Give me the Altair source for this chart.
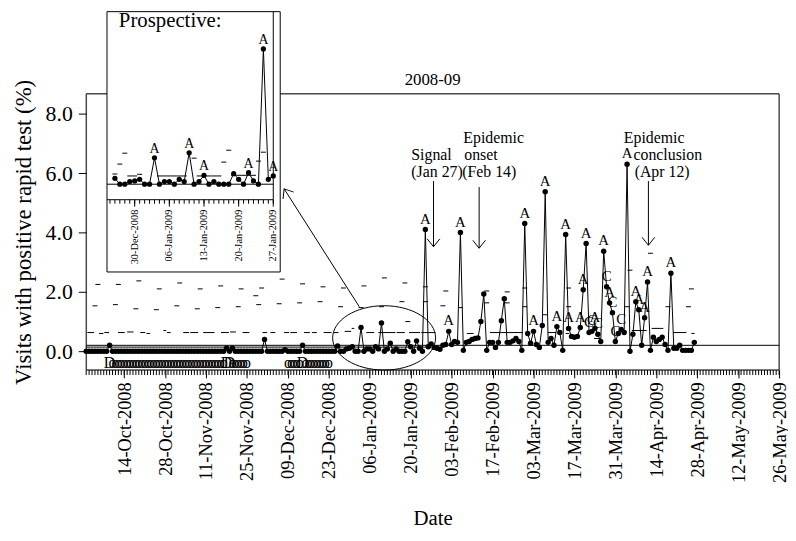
import altair as alt
import pandas as pd

SERIF = "Liberation Serif"
START = pd.Timestamp("2008-10-01")


def ts(d):
    return (START + pd.Timedelta(days=d)).strftime("%Y-%m-%dT%H:%M:%S")


def dt(y, m, d, h=0, mi=0):
    return alt.DateTime(year=y, month=m, date=d, hours=h, minutes=mi)


# ---------------- data (day 0 = 01-Oct-2008) ----------------
SERIES = [
    0, 0, 0, 0, 0, 0, 0, 0, 0.2, 0,
    0, 0, 0, 0, 0, 0, 0, 0, 0, 0,
    0, 0, 0, 0, 0, 0, 0, 0, 0, 0,
    0, 0, 0, 0, 0, 0, 0, 0, 0, 0,
    0, 0, 0, 0, 0, 0, 0, 0, 0.1, 0,
    0.1, 0, 0, 0, 0, 0, 0, 0, 0, 0,
    0, 0.4, 0, 0, 0, 0, 0, 0, 0.05, 0,
    0, 0, 0, 0, 0.2, 0, 0, 0, 0, 0,
    0, 0, 0, 0, 0, 0,
    0.18, 0, 0, 0.08, 0.1, 0.15, 0, 0, 0.8, 0,
    0.08, 0.08, 0, 0.15, 0.08, 0.95, 0, 0.08, 0.27, 0,
    0.08, 0, 0, 0, 0.32, 0.15, 0, 0.35, 0.1, 0,
    4.1, 0.15, 0.25, 0.13, 0.1, 0.07, 0.2, 0.23, 0.67, 0.23,
    0.33, 0.3, 4.0, 0.03, 0.3, 0.33, 0.4, 0.43, 0.45, 1.0,
    1.93, 0.03, 0.3, 0.3, 0.13, 0.3, 1.03, 1.77, 0.3, 0.3,
    0.35, 0.43, 0.33, 0.03, 4.3, 0.6, 0.27, 0.67, 0.23, 0.13,
    0.87, 5.37, 0.3, 0.43, 0.2, 0.83, 0.63, 0.03, 3.93, 0.77,
    0.5, 0.47, 0.5, 0.8, 2.07, 3.63, 0.63, 0.67, 0.77, 0.57,
    0.33, 3.37, 2.17, 1.63, 1.3, 0.33, 0.6, 0.73, 0.63, 6.3,
    0, 0.57, 1.67, 1.4, 0.2, 1.13, 2.33, 0.03, 0.47, 0.33,
    0.4, 0.47, 0.23, 0.03, 2.63, 0.1, 0.1, 0.2, 0.03, 0.03,
    0.03, 0.03, 0.3,
]
A_DAYS = [116, 124, 128, 150, 153, 157, 161, 164, 165, 169, 170, 171, 174,
          177, 179, 185, 188, 189, 191, 192, 200]
C_DAYS = [172, 173, 175, 178, 180, 181, 183]

# weekly threshold marks (day, value)
HI_MARKS = [(4, 2.25), (11, 2.25), (18, 2.37), (25, 2.1), (32, 2.3), (39, 2.1),
            (46, 2.2), (53, 2.1), (58, 1.87), (60, 2.13), (67, 2.43), (74, 2.27),
            (81, 2.17), (88, 2.13), (95, 2.2), (102, 2.47), (109, 2.3), (110, 1.0),
            (116, 2.17), (123, 2.03), (137, 2.03), (144, 2.0), (150, 2.13),
            (165, 2.13), (186, 2.73), (193, 3.3), (207, 2.1)]
LO_MARKS = [(3, 1.53), (10, 1.57), (17, 1.43), (24, 1.4), (31, 1.53), (38, 1.43),
            (45, 1.47), (52, 1.5), (59, 1.57), (66, 1.6), (73, 1.63), (80, 1.67),
            (87, 1.5), (94, 1.47), (101, 1.5), (108, 1.67), (116, 1.67), (122, 1.53),
            (128, 1.47), (137, 1.63), (144, 1.63), (150, 1.5), (157, 1.23),
            (165, 1.5), (185, 1.5), (199, 1.5), (206, 1.5)]
# lower threshold dashes (start day, end day, value)
LOW_SEGMENTS = [
    (0.4, 2.7, 0.63), (4.4, 5.9, 0.6), (6.2, 7.8, 0.63), (10.9, 13.2, 0.63),
    (14.0, 16.2, 0.65), (18.5, 20.2, 0.63), (20.6, 21.9, 0.6), (26.4, 27.4, 0.7),
    (27.6, 28.9, 0.63), (33.2, 35.2, 0.63), (35.6, 38.3, 0.63), (40.0, 43.9, 0.63),
    (46.1, 48.8, 0.63), (49.2, 51.2, 0.65), (53.5, 55.8, 0.63), (60.3, 61.9, 0.63),
    (63.0, 64.7, 0.63), (67.7, 69.4, 0.63), (69.8, 72.1, 0.63), (74.5, 76.5, 0.63),
    (77.2, 78.9, 0.63), (81.2, 83.9, 0.63), (84.6, 86.3, 0.63), (88.4, 90.6, 0.67),
    (90.8, 91.7, 0.77), (95.8, 98.5, 0.63), (99.9, 105.8, 0.63), (106.2, 109.0, 0.63),
    (110.4, 114.2, 0.63), (114.6, 119.5, 0.63), (130.2, 132.5, 0.6),
    (138.1, 149.4, 0.63), (157.9, 160.7, 0.63), (164.0, 165.2, 0.6),
    (173.7, 175.9, 0.43), (182.0, 184.9, 0.67), (186.6, 191.7, 0.7),
    (193.4, 197.4, 0.77), (200.7, 205.3, 0.63), (207.0, 208.1, 0.6),
]
BASE_LINES = [(0, 237, 0.2), (0, 118, 0.14)]

# letter rows under the baseline
O_DAYS = list(range(9, 48)) + list(range(50, 56)) + list(range(69, 74)) + list(range(75, 84))
D_DAYS = [8, 48, 49, 74]
LETTER_Y = -0.57

MAJOR_LABEL_DATES = [(2008, 10, 14), (2008, 10, 28), (2008, 11, 11), (2008, 11, 25),
                     (2008, 12, 9), (2008, 12, 23), (2009, 1, 6), (2009, 1, 20),
                     (2009, 2, 3), (2009, 2, 17), (2009, 3, 3), (2009, 3, 17),
                     (2009, 3, 31), (2009, 4, 14), (2009, 4, 28), (2009, 5, 12),
                     (2009, 5, 26)]

TITLE = ("2008-09", 118.5, 8.95)
ANNOT_TEXT = ["Signal", "(Jan 27)", "Epidemic", "onset", "(Feb 14)",
              "Epidemic", "conclusion", "(Apr 12)"]
ANNOT_DAY = [111.2, 111.2, 129.0, 129.3, 128.6, 183.9, 187.2, 187.6]
ANNOT_Y = [6.43, 5.87, 7.03, 6.43, 5.87, 7.03, 6.43, 5.87]
ARROWS = [(118.8, 5.73, 3.52), (134.4, 5.53, 3.47), (192.3, 5.73, 3.57)]

ELLIPSE = (101.9, 0.45)
LINK = (93.4, 1.5, 67.7, 5.47)  # tail day, tail value, tip day, tip value

# inset
INSET_FIRST, INSET_LAST = 86, 118
INSET_A_DAYS = [94, 101, 104, 113, 116, 118]
INSET_DASHES = [(86, 0.31), (87, 0.61), (88, 0.94), (89, 0.25), (90, 0.25), (91, 0.3),
                (95, 0.25), (96, 0.25), (97, 0.25), (98, 0.25), (99, 0.25), (100, 0.25),
                (102, 0.79), (103, 0.25), (104, 0.25), (105, 0.25), (106, 0.25), (107, 0.25),
                (108, 0.67), (109, 1.03), (110, 0.27), (111, 0.27), (112, 0.27), (113, 0.27),
                (114, 0.27), (115, 0.7), (116, 0.97)]
INSET_TICK_DAYS = [90, 97, 104, 111, 118]
INSET_TICK_LABELS = ["30-Dec-2008", "06-Jan-2009", "13-Jan-2009", "20-Jan-2009", "27-Jan-2009"]
INSET_X0, INSET_X1, INSET_BOX_X1 = 84.4, 118.0, 119.4
INSET_Y0, INSET_TOP, INSET_BOX_Y0 = -0.47, 5.23, -2.66

# ---------------- scales & axes ----------------
X_SCALE = alt.Scale(type="time", domain=[dt(2008, 10, 1), dt(2009, 5, 26)], nice=False)
Y_SCALE = alt.Scale(domain=[-0.63, 8.67], nice=False, zero=False)
X_AXIS = alt.Axis(values=[dt(*v) for v in MAJOR_LABEL_DATES], format="%d-%b-%Y",
                  labelAngle=270, labelFont=SERIF, labelFontSize=18.5, labelPadding=4,
                  labelOverlap=False, labelFlush=False, tickSize=8, grid=False,
                  domain=False, title="Date", titleFont=SERIF, titleFontSize=21,
                  titleFontWeight="normal", titleY=156, titleBaseline="alphabetic")
Y_AXIS = alt.Axis(values=[0, 2, 4, 6, 8], format=".1f", tickSize=8, labelPadding=6,
                  labelFont=SERIF, labelFontSize=22, grid=False, domain=False,
                  title="Visits with positive rapid test (%)", titleFont=SERIF,
                  titleFontSize=23, titleFontWeight="normal", titleX=-56,
                  titleBaseline="alphabetic")
IX_SCALE = alt.Scale(type="time", domain=[dt(2008, 12, 24, 9, 36), dt(2009, 1, 27)],
                     range=[21, 189], nice=False)
IY_SCALE = alt.Scale(domain=[-0.47, 5.41], range=[107, -89], nice=False, zero=False)


def mx(f="date"):
    return alt.X(f"{f}:T", scale=X_SCALE, axis=X_AXIS)


def my(f="value"):
    return alt.Y(f"{f}:Q", scale=Y_SCALE, axis=Y_AXIS)


def ix(f="date"):
    return alt.X(f"{f}:T", scale=IX_SCALE, axis=None)


def iy(f="value"):
    return alt.Y(f"{f}:Q", scale=IY_SCALE, axis=None)


DASH = "M-1,0L1,0"
CHEVRON = "M-0.8,1L0,0L0.8,1"
ELLIPSE_PATH = "M-1,0A1,0.625,0,1,1,1,0A1,0.625,0,1,1,-1,0Z"

# ---------------- frames ----------------
series_df = pd.DataFrame({"date": [ts(i) for i in range(len(SERIES))], "value": SERIES})
series_df["flag"] = ["A" if i in A_DAYS else ("C" if i in C_DAYS else "")
                     for i in range(len(SERIES))]
flags_df = series_df[series_df["flag"] != ""]

frame_df = pd.DataFrame({"date": [ts(0)], "end": [ts(237)], "y0": [-0.63], "y1": [8.67]})
base_df = pd.DataFrame({"date": [ts(a) for a, b, v in BASE_LINES],
                        "end": [ts(b) for a, b, v in BASE_LINES],
                        "value": [v for a, b, v in BASE_LINES]})
seg_df = pd.DataFrame({"date": [ts(a) for a, b, v in LOW_SEGMENTS],
                       "end": [ts(b) for a, b, v in LOW_SEGMENTS],
                       "value": [v for a, b, v in LOW_SEGMENTS]})
marks = HI_MARKS + LO_MARKS
marks_df = pd.DataFrame({"date": [ts(d) for d, v in marks], "value": [v for d, v in marks]})
letters_df = pd.DataFrame({"date": [ts(d) for d in O_DAYS + D_DAYS],
                           "value": [LETTER_Y] * (len(O_DAYS) + len(D_DAYS)),
                           "t": ["o"] * len(O_DAYS) + ["D"] * len(D_DAYS)})
minor_df = pd.DataFrame({"date": [ts(d) for d in range(0, 238)], "y0": -0.63, "y1": -0.80})
annot_df = pd.DataFrame({"date": [ts(d) for d in ANNOT_DAY], "value": ANNOT_Y, "t": ANNOT_TEXT})
title_df = pd.DataFrame({"date": [ts(TITLE[1])], "value": [TITLE[2]], "t": [TITLE[0]]})
arrow_df = pd.DataFrame({"date": [ts(a[0]) for a in ARROWS],
                         "y0": [a[1] for a in ARROWS], "value": [a[2] for a in ARROWS]})
ell_df = pd.DataFrame({"date": [ts(ELLIPSE[0])], "value": [ELLIPSE[1]]})
link_df = pd.DataFrame({"date": [ts(LINK[0])], "value": [LINK[1]],
                        "end": [ts(LINK[2])], "y1": [LINK[3]]})
link_tip_df = pd.DataFrame({"date": [ts(LINK[2])], "value": [LINK[3]]})

main = alt.layer(
    alt.Chart(frame_df).mark_rect(fill="white", fillOpacity=0, stroke="black", strokeWidth=1)
    .encode(x=mx(), x2="end:T", y=my("y0"), y2="y1:Q"),
    alt.Chart(base_df).mark_rule(color="black", strokeWidth=1)
    .encode(x=mx(), x2="end:T", y=my()),
    alt.Chart(seg_df).mark_rule(color="black", strokeWidth=1)
    .encode(x=mx(), x2="end:T", y=my()),
    alt.Chart(marks_df).mark_point(shape=DASH, size=25, filled=False, color="black",
                                   strokeWidth=1, opacity=1)
    .encode(x=mx(), y=my()),
    alt.Chart(series_df).mark_line(color="black", strokeWidth=1)
    .encode(x=mx(), y=my()),
    alt.Chart(series_df).mark_circle(size=30, color="black", opacity=1)
    .encode(x=mx(), y=my()),
    alt.Chart(flags_df).mark_text(font=SERIF, fontSize=15, baseline="alphabetic", dy=-6,
                                  fill="black")
    .encode(x=mx(), y=my(), text="flag:N"),
    alt.Chart(letters_df).mark_text(font=SERIF, fontSize=16, baseline="alphabetic",
                                    fill="black")
    .encode(x=mx(), y=my(), text="t:N"),
    alt.Chart(minor_df).mark_rule(color="black", strokeWidth=1)
    .encode(x=mx(), y=my("y0"), y2="y1:Q"),
    alt.Chart(ell_df).mark_point(shape=ELLIPSE_PATH, size=10816, filled=False,
                                 color="black", strokeWidth=1, opacity=1)
    .encode(x=mx(), y=my()),
    alt.Chart(link_df).mark_rule(color="black", strokeWidth=1)
    .encode(x=mx(), x2="end:T", y=my(), y2="y1:Q"),
    alt.Chart(link_tip_df).mark_point(shape=CHEVRON, size=256, filled=False, color="black",
                                      strokeWidth=1, opacity=1, angle=327.5)
    .encode(x=mx(), y=my()),
    alt.Chart(arrow_df).mark_rule(color="black", strokeWidth=1)
    .encode(x=mx(), y=my("y0"), y2="value:Q"),
    alt.Chart(arrow_df).mark_point(shape=CHEVRON, size=256, filled=False, color="black",
                                   strokeWidth=1, opacity=1, angle=180)
    .encode(x=mx(), y=my()),
    alt.Chart(annot_df).mark_text(font=SERIF, fontSize=16, align="left",
                                  baseline="alphabetic", fill="black")
    .encode(x=mx(), y=my(), text="t:N"),
    alt.Chart(title_df).mark_text(font=SERIF, fontSize=17, align="center",
                                  baseline="alphabetic", fill="black")
    .encode(x=mx(), y=my(), text="t:N"),
)

# ---------------- inset ----------------
inset_series = series_df.iloc[INSET_FIRST:INSET_LAST + 1]
inset_flags = inset_series[[i in INSET_A_DAYS for i in range(INSET_FIRST, INSET_LAST + 1)]]
box_df = pd.DataFrame({"date": [ts(INSET_X0)], "end": [ts(INSET_BOX_X1)],
                       "y0": [INSET_BOX_Y0], "y1": [INSET_TOP]})
iframe_df = pd.DataFrame({"date": [ts(INSET_X0), ts(INSET_X1), ts(INSET_X0)],
                          "end": [ts(INSET_X1), ts(INSET_X1), ts(INSET_X1)],
                          "y0": [INSET_Y0, INSET_Y0, 0.0],
                          "y1": [INSET_Y0, INSET_TOP, 0.0]})
idash_df = pd.DataFrame({"date": [ts(d) for d, v in INSET_DASHES],
                         "value": [v for d, v in INSET_DASHES]})
iminor_df = pd.DataFrame({"date": [ts(d) for d in range(85, 119)], "y0": INSET_Y0,
                          "y1": INSET_Y0 - 0.12})
imajor_df = pd.DataFrame({"date": [ts(d) for d in INSET_TICK_DAYS], "y0": INSET_Y0,
                          "y1": INSET_Y0 - 0.21, "value": INSET_Y0 - 0.30,
                          "t": INSET_TICK_LABELS})
ptitle_df = pd.DataFrame({"date": [ts(86.8)], "value": [4.75], "t": ["Prospective:"]})

inset = alt.layer(
    alt.Chart(box_df).mark_rect(fill="white", stroke="black", strokeWidth=1)
    .encode(x=ix(), x2="end:T", y=iy("y0"), y2="y1:Q"),
    alt.Chart(iframe_df).mark_rule(color="black", strokeWidth=1)
    .encode(x=ix(), x2="end:T", y=iy("y0"), y2="y1:Q"),
    alt.Chart(idash_df).mark_point(shape=DASH, size=25, filled=False, color="black",
                                   strokeWidth=1, opacity=1)
    .encode(x=ix(), y=iy()),
    alt.Chart(inset_series).mark_line(color="black", strokeWidth=1)
    .encode(x=ix(), y=iy()),
    alt.Chart(inset_series).mark_circle(size=28, color="black", opacity=1)
    .encode(x=ix(), y=iy()),
    alt.Chart(inset_flags).mark_text(font=SERIF, fontSize=14, baseline="alphabetic",
                                     dy=-5, fill="black")
    .encode(x=ix(), y=iy(), text=alt.value("A")),
    alt.Chart(iminor_df).mark_rule(color="black", strokeWidth=1)
    .encode(x=ix(), y=iy("y0"), y2="y1:Q"),
    alt.Chart(imajor_df).mark_rule(color="black", strokeWidth=1)
    .encode(x=ix(), y=iy("y0"), y2="y1:Q"),
    alt.Chart(imajor_df).mark_text(font=SERIF, fontSize=10.5, angle=270, align="right",
                                   baseline="middle", fill="black")
    .encode(x=ix(), y=iy(), text="t:N"),
    alt.Chart(ptitle_df).mark_text(font=SERIF, fontSize=21, align="left",
                                   baseline="alphabetic", fill="black")
    .encode(x=ix(), y=iy(), text="t:N"),
)

chart = alt.layer(main, inset).resolve_scale(x="independent", y="independent").properties(
    width=700, height=279,
    padding={"left": 79, "top": 84, "right": 9, "bottom": 160},
    autosize=alt.AutoSizeParams(type="none"),
).configure_view(stroke=None).configure(background="white").configure_axis(
    labelColor="black", tickColor="black", titleColor="black")

chart.save("out.html", embed_options={"renderer": "svg", "actions": False})
